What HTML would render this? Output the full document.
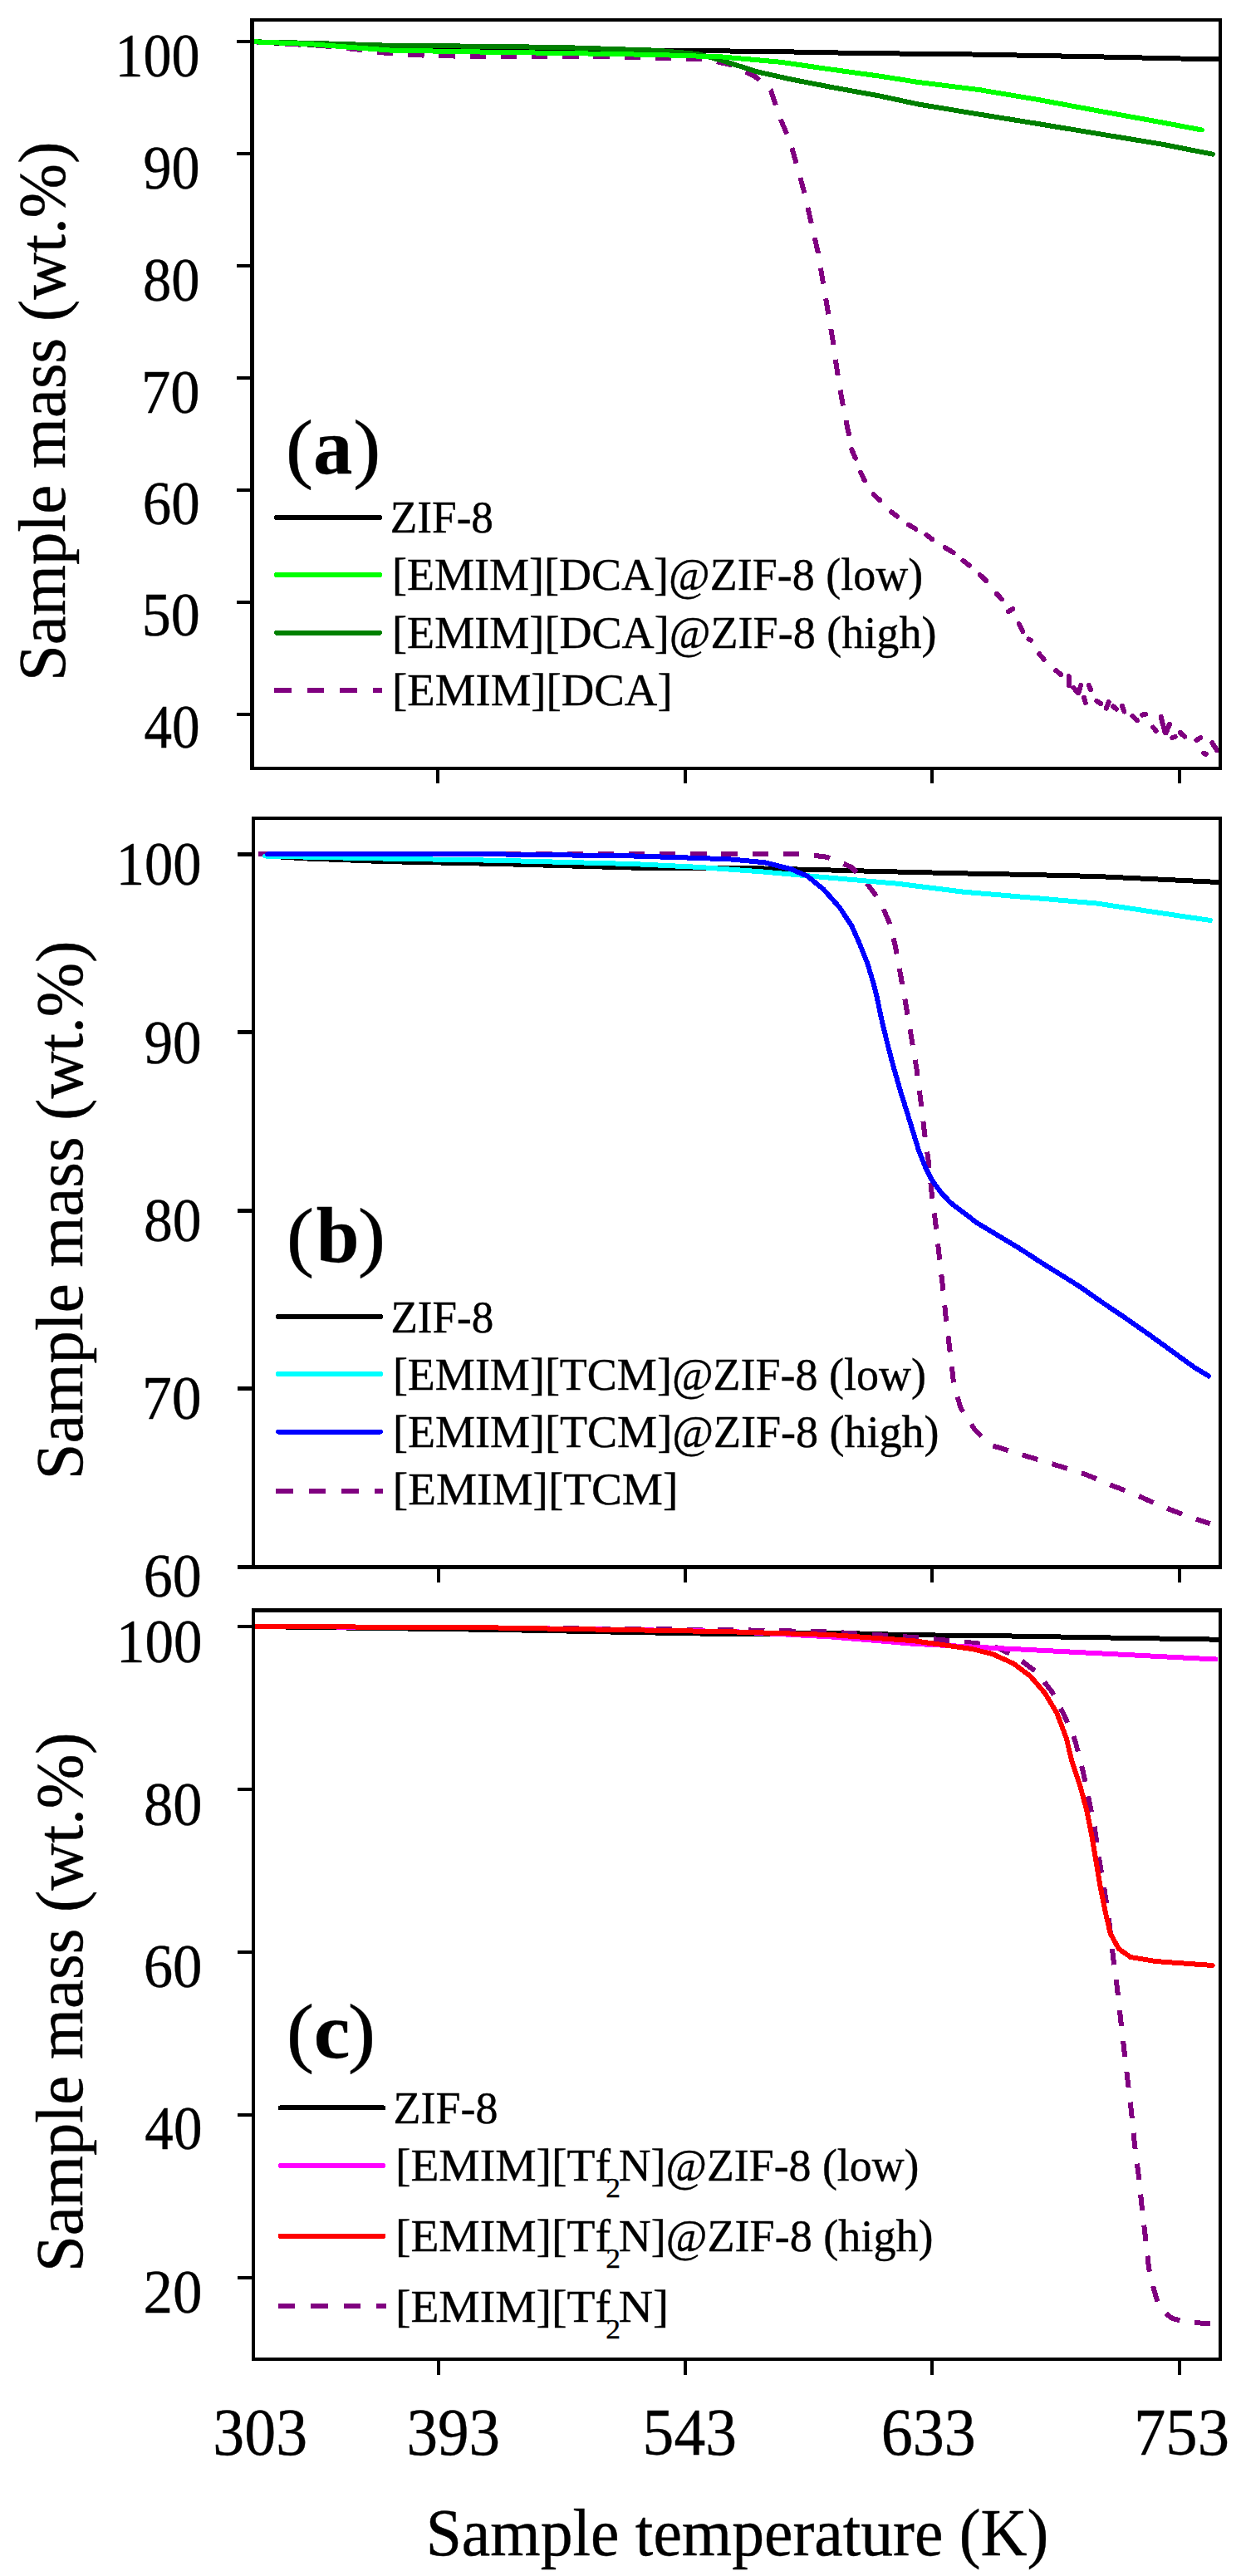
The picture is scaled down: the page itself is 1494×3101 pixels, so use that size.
<!DOCTYPE html>
<html><head><meta charset="utf-8"><style>
html,body{margin:0;padding:0;background:#fff;}
svg{display:block;} polyline,line,rect{shape-rendering:crispEdges;}
text{font-family:"Liberation Serif",serif;font-kerning:none;}
</style></head><body>
<svg width="1494" height="3101" viewBox="0 0 1494 3101">
<rect width="1494" height="3101" fill="#fff"/>
<polyline points="306.0,50.3 380.0,54.0 460.0,57.5 530.0,59.5 600.0,60.5 700.0,60.8 790.0,60.9 870.0,61.4 950.0,62.4 1030.0,63.9 1170.0,65.5 1320.0,68.3 1467.0,71.5" fill="none" stroke="#000" stroke-width="6" stroke-linejoin="round" stroke-linecap="round"/>
<polyline points="306.0,50.3 400.0,56.0 430.0,59.5 460.0,63.3 490.0,65.8 525.0,67.2 600.0,68.3 750.0,68.5 850.0,71.4 880.0,78.0 909.0,92.0 928.0,109.0 939.0,142.0 951.0,170.0 961.0,205.0 969.5,236.4 976.7,268.7 984.8,304.0 991.0,341.0 996.9,375.8 1002.5,408.9 1007.0,441.0 1013.0,478.0 1020.6,516.9 1024.0,530.0" fill="none" stroke="#800080" stroke-width="6" stroke-linejoin="round" stroke-linecap="butt" stroke-dasharray="19.3 17.9"/>
<line x1="1025.3" y1="541.1" x2="1029.8" y2="551.6" stroke="#800080" stroke-width="6" stroke-linecap="round"/>
<line x1="1036.2" y1="568.9" x2="1040.7" y2="578.2" stroke="#800080" stroke-width="6" stroke-linecap="round"/>
<line x1="1051.7" y1="595.2" x2="1059.0" y2="602.1" stroke="#800080" stroke-width="6" stroke-linecap="round"/>
<line x1="1073.0" y1="616.2" x2="1080.0" y2="621.5" stroke="#800080" stroke-width="6" stroke-linecap="round"/>
<line x1="1094.1" y1="631.9" x2="1102.4" y2="636.7" stroke="#800080" stroke-width="6" stroke-linecap="round"/>
<line x1="1115.3" y1="644.0" x2="1122.3" y2="649.3" stroke="#800080" stroke-width="6" stroke-linecap="round"/>
<line x1="1137.6" y1="659.1" x2="1147.7" y2="665.1" stroke="#800080" stroke-width="6" stroke-linecap="round"/>
<line x1="1159.4" y1="674.9" x2="1167.1" y2="680.7" stroke="#800080" stroke-width="6" stroke-linecap="round"/>
<line x1="1179.9" y1="692.2" x2="1187.2" y2="699.1" stroke="#800080" stroke-width="6" stroke-linecap="round"/>
<line x1="1199.8" y1="714.7" x2="1206.0" y2="721.4" stroke="#800080" stroke-width="6" stroke-linecap="round"/>
<line x1="1213.9" y1="736.2" x2="1219.1" y2="733.1" stroke="#800080" stroke-width="6" stroke-linecap="round"/>
<line x1="1226.7" y1="751.1" x2="1231.1" y2="759.9" stroke="#800080" stroke-width="6" stroke-linecap="round"/>
<line x1="1238.6" y1="769.4" x2="1240.9" y2="770.6" stroke="#800080" stroke-width="6" stroke-linecap="round"/>
<line x1="1251.1" y1="787.2" x2="1256.8" y2="793.9" stroke="#800080" stroke-width="6" stroke-linecap="round"/>
<line x1="1271.2" y1="807.1" x2="1277.2" y2="812.1" stroke="#800080" stroke-width="6" stroke-linecap="round"/>
<line x1="1286.8" y1="814.1" x2="1287.0" y2="825.0" stroke="#800080" stroke-width="6" stroke-linecap="round"/>
<line x1="1292.5" y1="827.9" x2="1297.5" y2="834.2" stroke="#800080" stroke-width="6" stroke-linecap="round"/>
<line x1="1298.5" y1="833.9" x2="1301.1" y2="825.0" stroke="#800080" stroke-width="6" stroke-linecap="round"/>
<line x1="1310.8" y1="824.9" x2="1313.0" y2="830.0" stroke="#800080" stroke-width="6" stroke-linecap="round"/>
<line x1="1304.9" y1="839.5" x2="1306.8" y2="846.0" stroke="#800080" stroke-width="6" stroke-linecap="round"/>
<line x1="1320.2" y1="843.9" x2="1325.4" y2="847.3" stroke="#800080" stroke-width="6" stroke-linecap="round"/>
<line x1="1331.7" y1="852.6" x2="1334.8" y2="845.1" stroke="#800080" stroke-width="6" stroke-linecap="round"/>
<line x1="1340.2" y1="850.4" x2="1344.0" y2="853.7" stroke="#800080" stroke-width="6" stroke-linecap="round"/>
<line x1="1351.0" y1="849.9" x2="1353.4" y2="856.6" stroke="#800080" stroke-width="6" stroke-linecap="round"/>
<line x1="1363.5" y1="861.8" x2="1369.1" y2="867.3" stroke="#800080" stroke-width="6" stroke-linecap="round"/>
<line x1="1375.2" y1="860.6" x2="1379.2" y2="859.6" stroke="#800080" stroke-width="6" stroke-linecap="round"/>
<line x1="1397.6" y1="862.9" x2="1402.7" y2="882.3" stroke="#800080" stroke-width="6" stroke-linecap="round"/>
<line x1="1388.3" y1="875.6" x2="1391.8" y2="880.0" stroke="#800080" stroke-width="6" stroke-linecap="round"/>
<line x1="1403.5" y1="882.4" x2="1408.1" y2="871.7" stroke="#800080" stroke-width="6" stroke-linecap="round"/>
<line x1="1411.4" y1="888.0" x2="1414.7" y2="887.0" stroke="#800080" stroke-width="6" stroke-linecap="round"/>
<line x1="1420.8" y1="881.9" x2="1426.2" y2="886.7" stroke="#800080" stroke-width="6" stroke-linecap="round"/>
<line x1="1440.3" y1="890.9" x2="1445.4" y2="888.1" stroke="#800080" stroke-width="6" stroke-linecap="round"/>
<line x1="1449.2" y1="906.6" x2="1451.8" y2="907.9" stroke="#800080" stroke-width="6" stroke-linecap="round"/>
<line x1="1459.2" y1="894.1" x2="1465.2" y2="903.4" stroke="#800080" stroke-width="6" stroke-linecap="round"/>
<polyline points="306.0,50.3 380.0,52.0 460.0,54.5 600.0,56.0 680.0,57.1 790.0,60.7 840.0,65.0 870.0,73.0 910.0,86.0 950.0,95.0 1000.0,104.8 1030.0,110.2 1060.0,115.7 1105.0,125.4 1180.0,137.8 1250.0,149.1 1325.0,161.5 1400.0,173.8 1460.0,185.7" fill="none" stroke="#008000" stroke-width="6" stroke-linejoin="round" stroke-linecap="round"/>
<polyline points="306.0,50.3 370.0,52.9 470.0,60.6 600.0,62.9 680.0,64.0 790.0,66.0 870.0,68.5 940.0,74.8 1000.0,83.5 1060.0,91.8 1105.0,98.9 1180.0,108.3 1250.0,120.0 1325.0,134.0 1400.0,147.6 1447.0,156.5" fill="none" stroke="#00ff00" stroke-width="6" stroke-linejoin="round" stroke-linecap="round"/>
<rect x="301" y="22" width="1170" height="4" fill="#000"/>
<rect x="301" y="923" width="1170" height="4" fill="#000"/>
<rect x="301" y="22" width="5" height="905" fill="#000"/>
<rect x="1467" y="22" width="4" height="905" fill="#000"/>
<rect x="285" y="48" width="18" height="4" fill="#000"/>
<rect x="285" y="183" width="18" height="4" fill="#000"/>
<rect x="285" y="318" width="18" height="4" fill="#000"/>
<rect x="285" y="453" width="18" height="4" fill="#000"/>
<rect x="285" y="588" width="18" height="4" fill="#000"/>
<rect x="285" y="723" width="18" height="4" fill="#000"/>
<rect x="285" y="858" width="18" height="4" fill="#000"/>
<rect x="525" y="925" width="4" height="18" fill="#000"/>
<rect x="823" y="925" width="4" height="18" fill="#000"/>
<rect x="1120" y="925" width="4" height="18" fill="#000"/>
<rect x="1417.5" y="925" width="4.0" height="18" fill="#000"/>
<text transform="translate(138.41,92.26) scale(0.9196,1)" font-size="74.07" fill="#000" stroke="#000" stroke-width="0.43">100</text>
<text transform="translate(172.51,227.26) scale(0.9192,1)" font-size="74.07" fill="#000" stroke="#000" stroke-width="0.44">90</text>
<text transform="translate(172.09,362.26) scale(0.9250,1)" font-size="74.07" fill="#000" stroke="#000" stroke-width="0.43">80</text>
<text transform="translate(170.04,496.76) scale(0.9537,1)" font-size="74.07" fill="#000" stroke="#000" stroke-width="0.42">70</text>
<text transform="translate(171.74,630.66) scale(0.9299,1)" font-size="74.07" fill="#000" stroke="#000" stroke-width="0.43">60</text>
<text transform="translate(170.63,765.26) scale(0.9455,1)" font-size="74.07" fill="#000" stroke="#000" stroke-width="0.42">50</text>
<text transform="translate(173.39,900.26) scale(0.9068,1)" font-size="74.07" fill="#000" stroke="#000" stroke-width="0.44">40</text>
<text transform="translate(78.30,820.07) rotate(-90) scale(0.9758,1)" font-size="80.70" stroke="#000" stroke-width="0.40">Sample mass (wt.%)</text>
<line x1="333" y1="623" x2="457" y2="623" stroke="#000" stroke-width="6" stroke-linecap="round"/>
<line x1="333" y1="691.9" x2="457" y2="691.9" stroke="#00ff00" stroke-width="6" stroke-linecap="round"/>
<line x1="333" y1="761.6" x2="457" y2="761.6" stroke="#008000" stroke-width="6" stroke-linecap="round"/>
<line x1="330" y1="831.3" x2="460" y2="831.3" stroke="#800080" stroke-width="6" stroke-linecap="butt" stroke-dasharray="20.5 19"/>
<text transform="translate(469.75,640.80) scale(0.9774,1)" font-size="54.50" fill="#000" stroke="#000" stroke-width="0.41">ZIF-8</text>
<text transform="translate(472.09,709.60) scale(0.9911,1)" font-size="54.50" fill="#000" stroke="#000" stroke-width="0.40">[EMIM][DCA]@ZIF-8 (low)</text>
<text transform="translate(472.08,779.90) scale(0.9929,1)" font-size="54.50" fill="#000" stroke="#000" stroke-width="0.40">[EMIM][DCA]@ZIF-8 (high)</text>
<text transform="translate(472.04,848.90) scale(1.0048,1)" font-size="54.50" fill="#000" stroke="#000" stroke-width="0.40">[EMIM][DCA]</text>
<text transform="translate(343.79,569.50) scale(1.0744,1)" font-size="93.50" stroke="#000" stroke-width="0.37" stroke-linejoin="round">(</text>
<text transform="translate(376.90,569.50) scale(0.9873,1)" font-size="96.00" font-weight="bold" stroke="#000" stroke-width="0.30" stroke-linejoin="round">a</text>
<text transform="translate(425.06,569.50) scale(1.0744,1)" font-size="93.50" stroke="#000" stroke-width="0.37" stroke-linejoin="round">)</text>
<polyline points="322.0,1030.5 370.0,1033.5 460.0,1037.0 600.0,1040.0 760.0,1044.5 840.0,1044.8 920.0,1045.5 1000.0,1047.5 1080.0,1049.5 1160.0,1051.4 1240.0,1053.0 1320.0,1055.0 1467.0,1062.0" fill="none" stroke="#000" stroke-width="6" stroke-linejoin="round" stroke-linecap="round"/>
<polyline points="310.5,1028.4 700.0,1028.4 760.0,1028.1 880.0,1028.0 964.6,1028.0 996.0,1031.8 1025.0,1043.8 1044.4,1064.4 1058.9,1083.7 1071.0,1111.5 1078.2,1140.5 1084.3,1174.4 1090.3,1208.2 1096.9,1247.5 1103.3,1285.4 1108.2,1323.3 1113.0,1363.6 1117.8,1398.2 1121.9,1438.5 1126.0,1470.0 1130.6,1511.0 1135.2,1551.0 1139.2,1590.8 1143.8,1627.6 1148.4,1667.4 1156.6,1695.0 1173.5,1721.0 1191.9,1739.3 1221.0,1748.5 1251.6,1757.7 1282.2,1767.0 1309.7,1776.0 1338.8,1788.3 1366.4,1799.0 1394.0,1811.3 1424.6,1823.5 1456.7,1834.3" fill="none" stroke="#800080" stroke-width="6" stroke-linejoin="round" stroke-linecap="butt" stroke-dasharray="19.3 17.9"/>
<polyline points="319.0,1030.5 340.0,1031.0 460.0,1033.5 600.0,1035.8 760.0,1040.0 840.0,1043.8 920.0,1049.6 976.7,1054.7 1080.0,1063.7 1160.0,1073.7 1240.0,1080.5 1320.0,1087.5 1457.0,1108.0" fill="none" stroke="#00ffff" stroke-width="6" stroke-linejoin="round" stroke-linecap="round"/>
<polyline points="322.3,1028.5 600.0,1028.4 760.0,1030.4 840.0,1032.9 880.0,1034.5 920.0,1038.2 952.5,1046.3 971.9,1054.7 991.2,1070.4 1010.5,1092.0 1025.0,1114.0 1034.7,1135.7 1044.4,1160.0 1051.6,1184.0 1055.6,1200.0 1061.5,1228.0 1068.2,1255.9 1075.5,1283.9 1083.5,1311.8 1092.3,1340.0 1099.7,1364.2 1105.8,1384.3 1113.8,1404.5 1121.9,1420.6 1132.4,1435.1 1144.5,1448.0 1160.6,1460.1 1175.8,1471.9 1201.6,1487.4 1227.4,1502.9 1253.1,1519.6 1278.9,1535.7 1300.0,1548.9 1327.4,1568.1 1354.8,1586.6 1382.2,1605.8 1409.6,1625.6 1437.0,1645.5 1455.0,1656.5" fill="none" stroke="#0000ff" stroke-width="6" stroke-linejoin="round" stroke-linecap="round"/>
<rect x="303" y="983" width="1168" height="4" fill="#000"/>
<rect x="303" y="1884" width="1168" height="5" fill="#000"/>
<rect x="303" y="983" width="4" height="906" fill="#000"/>
<rect x="1467" y="983" width="4" height="906" fill="#000"/>
<rect x="286" y="1026.1" width="19" height="5.0" fill="#000"/>
<rect x="286" y="1240.4499999999998" width="19" height="5.0" fill="#000"/>
<rect x="286" y="1454.8" width="19" height="5.0" fill="#000"/>
<rect x="286" y="1669.1499999999999" width="19" height="5.0" fill="#000"/>
<rect x="286" y="1883.5" width="19" height="5.0" fill="#000"/>
<rect x="526" y="1887" width="4" height="18" fill="#000"/>
<rect x="823" y="1887" width="4" height="18" fill="#000"/>
<rect x="1120" y="1887" width="4" height="18" fill="#000"/>
<rect x="1417.5" y="1887" width="4.0" height="18" fill="#000"/>
<text transform="translate(139.77,1065.26) scale(0.9292,1)" font-size="73.78" fill="#000" stroke="#000" stroke-width="0.43">100</text>
<text transform="translate(173.47,1279.56) scale(0.9375,1)" font-size="73.78" fill="#000" stroke="#000" stroke-width="0.43">90</text>
<text transform="translate(173.05,1493.86) scale(0.9434,1)" font-size="73.78" fill="#000" stroke="#000" stroke-width="0.42">80</text>
<text transform="translate(170.97,1708.16) scale(0.9727,1)" font-size="73.78" fill="#000" stroke="#000" stroke-width="0.41">70</text>
<text transform="translate(172.69,1922.46) scale(0.9484,1)" font-size="73.78" fill="#000" stroke="#000" stroke-width="0.42">60</text>
<text transform="translate(99.30,1781.16) rotate(-90) scale(0.9708,1)" font-size="81.00" stroke="#000" stroke-width="0.40">Sample mass (wt.%)</text>
<line x1="335" y1="1584.9" x2="458" y2="1584.9" stroke="#000" stroke-width="6" stroke-linecap="round"/>
<line x1="335" y1="1654" x2="458" y2="1654" stroke="#00ffff" stroke-width="6" stroke-linecap="round"/>
<line x1="335" y1="1723.5" x2="458" y2="1723.5" stroke="#0000ff" stroke-width="6" stroke-linecap="round"/>
<line x1="332" y1="1794.7" x2="461" y2="1794.7" stroke="#800080" stroke-width="6" stroke-linecap="butt" stroke-dasharray="20.5 19"/>
<text transform="translate(470.46,1603.80) scale(0.9733,1)" font-size="54.50" fill="#000" stroke="#000" stroke-width="0.41">ZIF-8</text>
<text transform="translate(472.89,1673.20) scale(0.9911,1)" font-size="54.50" fill="#000" stroke="#000" stroke-width="0.40">[EMIM][TCM]@ZIF-8 (low)</text>
<text transform="translate(472.89,1741.80) scale(0.9920,1)" font-size="54.50" fill="#000" stroke="#000" stroke-width="0.40">[EMIM][TCM]@ZIF-8 (high)</text>
<text transform="translate(472.80,1810.80) scale(1.0134,1)" font-size="54.50" fill="#000" stroke="#000" stroke-width="0.39">[EMIM][TCM]</text>
<text transform="translate(344.69,1518.80) scale(1.0744,1)" font-size="93.50" stroke="#000" stroke-width="0.37" stroke-linejoin="round">(</text>
<text transform="translate(380.87,1518.80) scale(0.9693,1)" font-size="96.00" font-weight="bold" stroke="#000" stroke-width="0.31" stroke-linejoin="round">b</text>
<text transform="translate(430.76,1518.80) scale(1.0744,1)" font-size="93.50" stroke="#000" stroke-width="0.37" stroke-linejoin="round">)</text>
<polyline points="306.0,1958.0 600.0,1962.0 880.0,1967.2 1000.0,1965.5 1100.0,1968.4 1170.0,1968.7 1467.0,1973.7" fill="none" stroke="#000" stroke-width="6" stroke-linejoin="round" stroke-linecap="round"/>
<polyline points="306.0,1957.8 400.0,1958.5 600.0,1959.5 880.0,1962.0 1000.0,1964.5 1100.0,1971.0 1158.0,1976.4 1192.5,1980.0 1222.5,1993.7 1247.4,2012.5 1266.2,2036.2 1281.2,2065.0 1292.4,2090.0 1294.5,2096.0 1303.5,2131.4 1310.6,2164.6 1317.6,2198.9 1323.0,2236.0 1329.7,2275.4 1335.2,2311.7 1339.8,2354.0 1344.8,2392.2 1349.3,2432.5 1353.9,2472.8 1357.5,2503.6 1362.1,2543.2 1366.0,2582.0 1370.7,2618.5 1374.9,2658.9 1379.5,2697.7 1383.0,2730.0 1388.2,2752.8 1394.0,2773.0 1399.4,2781.6 1411.0,2790.9 1426.6,2794.8 1446.0,2796.6 1459.2,2797.0" fill="none" stroke="#800080" stroke-width="6" stroke-linejoin="round" stroke-linecap="butt" stroke-dasharray="19.3 17.9"/>
<polyline points="306.0,1958.0 600.0,1959.5 880.0,1964.0 1000.0,1970.4 1100.0,1978.8 1170.0,1982.5 1463.5,1997.5" fill="none" stroke="#ff00ff" stroke-width="6" stroke-linejoin="round" stroke-linecap="round"/>
<polyline points="306.0,1957.8 600.0,1959.5 880.0,1964.3 1000.0,1968.0 1100.0,1975.2 1170.0,1985.0 1195.0,1991.2 1220.0,2002.5 1240.0,2017.4 1257.4,2037.4 1272.4,2062.4 1283.7,2092.4 1290.4,2120.3 1300.5,2150.5 1308.6,2180.7 1314.6,2211.0 1319.6,2241.2 1324.7,2271.4 1330.7,2301.6 1336.8,2327.8 1346.8,2345.9 1361.0,2356.0 1391.0,2361.0 1431.4,2364.0 1459.6,2366.0" fill="none" stroke="#ff0000" stroke-width="6" stroke-linejoin="round" stroke-linecap="round"/>
<rect x="303" y="1936" width="1168" height="5" fill="#000"/>
<rect x="303" y="2838" width="1168" height="4" fill="#000"/>
<rect x="303" y="1936" width="4" height="906" fill="#000"/>
<rect x="1467" y="1936" width="4" height="906" fill="#000"/>
<rect x="286" y="1956" width="19" height="4" fill="#000"/>
<rect x="286" y="2152" width="19" height="4" fill="#000"/>
<rect x="286" y="2348" width="19" height="4" fill="#000"/>
<rect x="286" y="2544" width="19" height="4" fill="#000"/>
<rect x="286" y="2740" width="19" height="4" fill="#000"/>
<rect x="526" y="2840" width="4" height="19" fill="#000"/>
<rect x="823" y="2840" width="4" height="19" fill="#000"/>
<rect x="1120" y="2840" width="4" height="19" fill="#000"/>
<rect x="1417.5" y="2840" width="4.0" height="19" fill="#000"/>
<text transform="translate(139.94,2000.57) scale(0.9447,1)" font-size="73.04" fill="#000" stroke="#000" stroke-width="0.42">100</text>
<text transform="translate(173.02,2196.57) scale(0.9648,1)" font-size="73.04" fill="#000" stroke="#000" stroke-width="0.41">80</text>
<text transform="translate(172.66,2391.87) scale(0.9699,1)" font-size="73.04" fill="#000" stroke="#000" stroke-width="0.41">60</text>
<text transform="translate(174.35,2587.07) scale(0.9458,1)" font-size="73.04" fill="#000" stroke="#000" stroke-width="0.42">40</text>
<text transform="translate(172.58,2784.17) scale(0.9710,1)" font-size="73.04" fill="#000" stroke="#000" stroke-width="0.41">20</text>
<text transform="translate(99.30,2735.07) rotate(-90) scale(0.9725,1)" font-size="81.00" stroke="#000" stroke-width="0.40">Sample mass (wt.%)</text>
<line x1="337.5" y1="2537.4" x2="461.5" y2="2537.4" stroke="#000" stroke-width="6" stroke-linecap="round"/>
<line x1="337.5" y1="2607" x2="461.5" y2="2607" stroke="#ff00ff" stroke-width="6" stroke-linecap="round"/>
<line x1="337.5" y1="2691.7" x2="461.5" y2="2691.7" stroke="#ff0000" stroke-width="6" stroke-linecap="round"/>
<line x1="334.5" y1="2776.3" x2="464.5" y2="2776.3" stroke="#800080" stroke-width="6" stroke-linecap="butt" stroke-dasharray="20.5 19"/>
<text transform="translate(473.52,2555.80) scale(0.9897,1)" font-size="54.50" fill="#000" stroke="#000" stroke-width="0.40">ZIF-8</text>
<text transform="translate(475.88,2624.80) scale(1.0196,1)" font-size="54.50" fill="#000" stroke="#000" stroke-width="0.39">[EMIM][Tf</text>
<text transform="translate(729.24,2644.80) scale(1.0734,1)" font-size="33.00" fill="#000" stroke="#000" stroke-width="0.37">2</text>
<text transform="translate(744.65,2624.80) scale(0.9874,1)" font-size="54.50" fill="#000" stroke="#000" stroke-width="0.41">N]@ZIF-8 (low)</text>
<text transform="translate(475.88,2710.10) scale(1.0196,1)" font-size="54.50" fill="#000" stroke="#000" stroke-width="0.39">[EMIM][Tf</text>
<text transform="translate(729.24,2730.10) scale(1.0734,1)" font-size="33.00" fill="#000" stroke="#000" stroke-width="0.37">2</text>
<text transform="translate(744.64,2710.10) scale(0.9929,1)" font-size="54.50" fill="#000" stroke="#000" stroke-width="0.40">N]@ZIF-8 (high)</text>
<text transform="translate(475.88,2795.00) scale(1.0196,1)" font-size="54.50" fill="#000" stroke="#000" stroke-width="0.39">[EMIM][Tf</text>
<text transform="translate(729.24,2815.00) scale(1.0734,1)" font-size="33.00" fill="#000" stroke="#000" stroke-width="0.37">2</text>
<text transform="translate(744.54,2795.00) scale(1.0560,1)" font-size="54.50" fill="#000" stroke="#000" stroke-width="0.38">N]</text>
<text transform="translate(344.69,2476.60) scale(1.0744,1)" font-size="93.50" stroke="#000" stroke-width="0.37" stroke-linejoin="round">(</text>
<text transform="translate(377.68,2476.60) scale(1.0261,1)" font-size="96.00" font-weight="bold" stroke="#000" stroke-width="0.29" stroke-linejoin="round">c</text>
<text transform="translate(418.66,2476.60) scale(1.0744,1)" font-size="93.50" stroke="#000" stroke-width="0.37" stroke-linejoin="round">)</text>
<text transform="translate(256.37,2955.20) scale(0.9422,1)" font-size="80.44" fill="#000" stroke="#000" stroke-width="0.42">303</text>
<text transform="translate(489.41,2955.20) scale(0.9325,1)" font-size="80.44" fill="#000" stroke="#000" stroke-width="0.43">393</text>
<text transform="translate(773.61,2955.20) scale(0.9393,1)" font-size="80.44" fill="#000" stroke="#000" stroke-width="0.43">543</text>
<text transform="translate(1060.73,2955.20) scale(0.9468,1)" font-size="80.44" fill="#000" stroke="#000" stroke-width="0.42">633</text>
<text transform="translate(1364.94,2955.20) scale(0.9535,1)" font-size="80.44" fill="#000" stroke="#000" stroke-width="0.42">753</text>
<text transform="translate(512.71,3076.20) scale(0.9701,1)" font-size="80.00" fill="#000" stroke="#000" stroke-width="0.41">Sample temperature (K)</text>
</svg></body></html>
